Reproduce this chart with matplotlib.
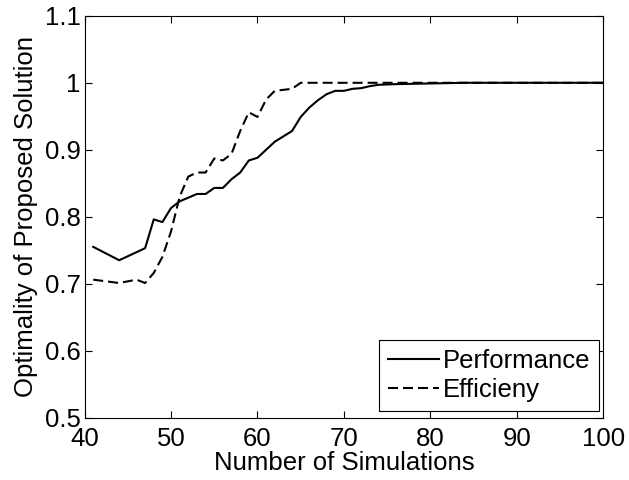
import matplotlib
matplotlib.use("Agg")
import matplotlib.pyplot as plt

plt.rcParams['font.family'] = ['Liberation Sans', 'DejaVu Sans']

perf_x = [41, 44, 47, 48, 49, 50, 51, 53, 54, 55, 56, 57, 58, 59, 60, 61, 62, 64, 65,
          66, 67, 68, 69, 70, 71, 72, 73, 74, 76, 84, 100]
perf_y = [0.755, 0.735, 0.753, 0.796, 0.792, 0.813, 0.823, 0.834, 0.834, 0.843, 0.843,
          0.856, 0.866, 0.884, 0.888, 0.900, 0.912, 0.928, 0.949, 0.963, 0.974, 0.983,
          0.988, 0.988, 0.991, 0.992, 0.995, 0.997, 0.998, 1.0, 1.0]

eff_x = [41, 44, 46, 47, 48, 49, 50, 51, 52, 53, 54, 55, 56, 57, 58, 59, 60, 61, 62,
         64, 65, 100]
eff_y = [0.706, 0.701, 0.706, 0.701, 0.716, 0.740, 0.778, 0.830, 0.860, 0.866, 0.866,
         0.887, 0.884, 0.894, 0.928, 0.956, 0.949, 0.975, 0.988, 0.991, 1.0, 1.0]

xticks = [40, 50, 60, 70, 80, 90, 100]
yticks = [0.5, 0.6, 0.7, 0.8, 0.9, 1.0, 1.1]
ytick_labels = ['0.5', '0.6', '0.7', '0.8', '0.9', '1', '1.1']

FS = 18.5

fig = plt.figure(figsize=(6.29, 4.8), dpi=100)
ax = fig.add_axes([0.1345, 0.130, 0.8245, 0.837])

ax.plot(perf_x, perf_y, color='black', lw=1.5, ls='-', label='Performance')
ax.plot(eff_x, eff_y, color='black', lw=1.5, ls=(0, (4.8, 2.4)), label='Efficieny')

ax.set_xlim(40, 100)
ax.set_ylim(0.5, 1.1)
ax.set_xticks(xticks)
ax.set_yticks(yticks)
ax.set_yticklabels(ytick_labels)
ax.tick_params(direction='in', top=True, right=True, length=5, width=0.8,
               labelsize=FS)
ax.tick_params(axis='y', pad=3)
ax.tick_params(axis='x', pad=6.5)
for s in ax.spines.values():
    s.set_linewidth(0.8)

ax.set_xlabel('Number of Simulations', fontsize=FS, labelpad=0)
ax.set_ylabel('Optimality of Proposed Solution', fontsize=FS, labelpad=5)

leg = ax.legend(loc='lower right', bbox_to_anchor=(0.992, 0.017), borderaxespad=0,
                fontsize=FS, frameon=True, fancybox=False,
                edgecolor='black', framealpha=1, handlelength=2.0,
                handletextpad=0.12, borderpad=0.35, labelspacing=0.2)
leg.get_frame().set_linewidth(0.8)

fig.savefig('out.png', dpi=100)
